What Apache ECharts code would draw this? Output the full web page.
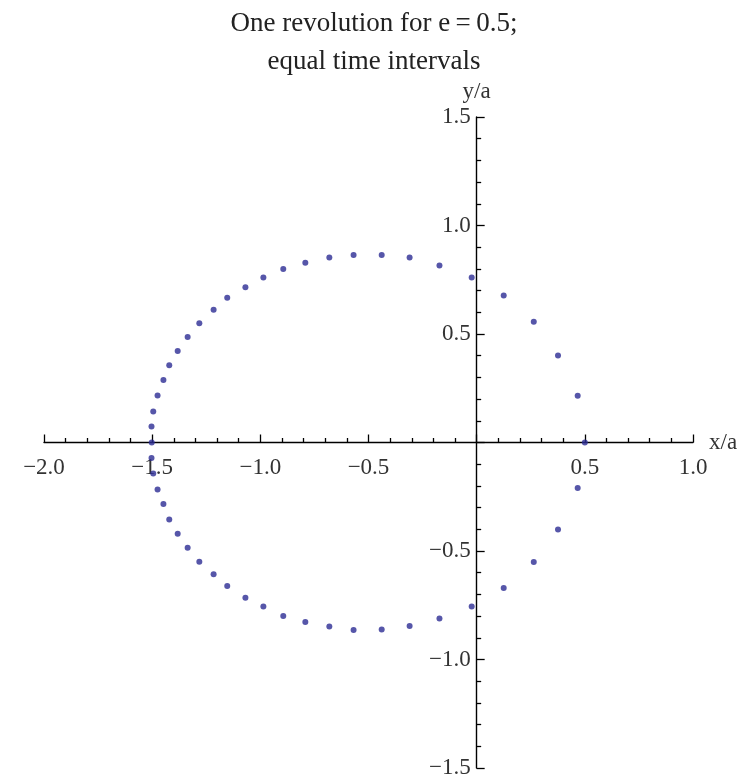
<!DOCTYPE html>
<html>
<head>
<meta charset="utf-8">
<script src="https://cdn.jsdelivr.net/npm/echarts@6/dist/echarts.min.js"></script>
<style>
  html, body { margin: 0; padding: 0; background: #fff; }
  #chart { width: 752px; height: 777px; }
</style>
</head>
<body>
<div id="chart"></div>
<script>
// Orbit positions (x/a, y/a), sampled at equal time steps over one revolution
const orbitX = [
  0.500, 0.467, 0.376, 0.264, 0.125, -0.023, -0.172, -0.310, -0.439, -0.569,
  -0.681, -0.792, -0.894, -0.986, -1.069, -1.153, -1.216, -1.282, -1.336, -1.382,
  -1.421, -1.448, -1.475, -1.495, -1.503, -1.502,
  -1.503, -1.495, -1.475, -1.448, -1.421, -1.382, -1.336, -1.282, -1.216, -1.153,
  -1.069, -0.986, -0.894, -0.792, -0.681, -0.569, -0.439, -0.310, -0.172, -0.023,
  0.125, 0.264, 0.376, 0.467
];
const orbitY = [
  0.000, 0.216, 0.401, 0.557, 0.677, 0.760, 0.816, 0.852, 0.864, 0.864,
  0.853, 0.828, 0.799, 0.760, 0.716, 0.667, 0.612, 0.550, 0.486, 0.422,
  0.356, 0.288, 0.217, 0.143, 0.074, 0.000,
  -0.072, -0.143, -0.217, -0.283, -0.355, -0.421, -0.485, -0.550, -0.607, -0.661,
  -0.716, -0.756, -0.799, -0.827, -0.848, -0.864, -0.862, -0.846, -0.811, -0.756,
  -0.671, -0.551, -0.401, -0.210
];

const titleLines = ['One revolution for e\u2009=\u20090.5;', 'equal time intervals'];
const xRange = [-2.0, 1.0];
const yRange = [-1.5, 1.5];
const tickStep = 0.5;

const points = orbitX.map((x, i) => [x, orbitY[i]]);

function tickText(v) {
  if (Math.abs(v) < 1e-9) return '';
  return v.toFixed(1).replace('-', '\u2212');
}

const serif = '"Liberation Serif", "DejaVu Serif", serif';
const GRID = { left: 44, right: 59, top: 117, bottom: 9 };

const axisCommon = {
  type: 'value',
  interval: tickStep,
  splitLine: { show: false },
  axisLine: { onZero: false, lineStyle: { color: '#000', width: 1.4 } },
  axisTick: { show: true, inside: true, length: 8, lineStyle: { color: '#000', width: 1.3 } },
  minorTick: { show: true, splitNumber: 5, length: 4.5, lineStyle: { color: '#000', width: 1.3 } },
  nameTextStyle: { fontFamily: serif, fontSize: 23, color: '#333' }
};

const chart = echarts.init(document.getElementById('chart'), null, { renderer: 'canvas' });
chart.setOption({
  animation: false,
  backgroundColor: '#fff',
  title: {
    text: titleLines.join('\n'),
    left: 369,
    top: 0,
    textAlign: 'center',
    textStyle: { fontFamily: serif, fontSize: 27, fontWeight: 'normal', color: '#222', lineHeight: 38 }
  },
  grid: Object.assign({ outerBoundsMode: 'none', containLabel: false }, GRID),
  xAxis: Object.assign({}, axisCommon, {
    position: 'bottom',
    min: xRange[0], max: xRange[1],
    name: 'x/a', nameLocation: 'end', nameGap: 16,
    nameTextStyle: Object.assign({}, axisCommon.nameTextStyle, { padding: [14, 0, 0, 0] }),
    axisLabel: { formatter: tickText, margin: 14, fontFamily: serif, fontSize: 23, color: '#333' }
  }),
  yAxis: Object.assign({}, axisCommon, {
    position: 'left',
    min: yRange[0], max: yRange[1],
    name: 'y/a', nameLocation: 'end', nameGap: 14,
    nameTextStyle: Object.assign({}, axisCommon.nameTextStyle, { align: 'center' }),
    axisLabel: { formatter: tickText, margin: 6, fontFamily: serif, fontSize: 23, color: '#333' }
  }),
  series: [{
    type: 'scatter',
    data: points,
    symbol: 'circle',
    symbolSize: 6,
    itemStyle: { color: '#2c2c94' },
    z: 1
  }]
});

// Move both axes (line, ticks and labels) so that they cross at the origin
const origin = chart.convertToPixel({ gridIndex: 0 }, [0, 0]);
const chartH = chart.getHeight();
chart.setOption({
  xAxis: { offset: -((chartH - GRID.bottom) - origin[1]) },
  yAxis: { offset: -(origin[0] - GRID.left) }
});
</script>
</body>
</html>
